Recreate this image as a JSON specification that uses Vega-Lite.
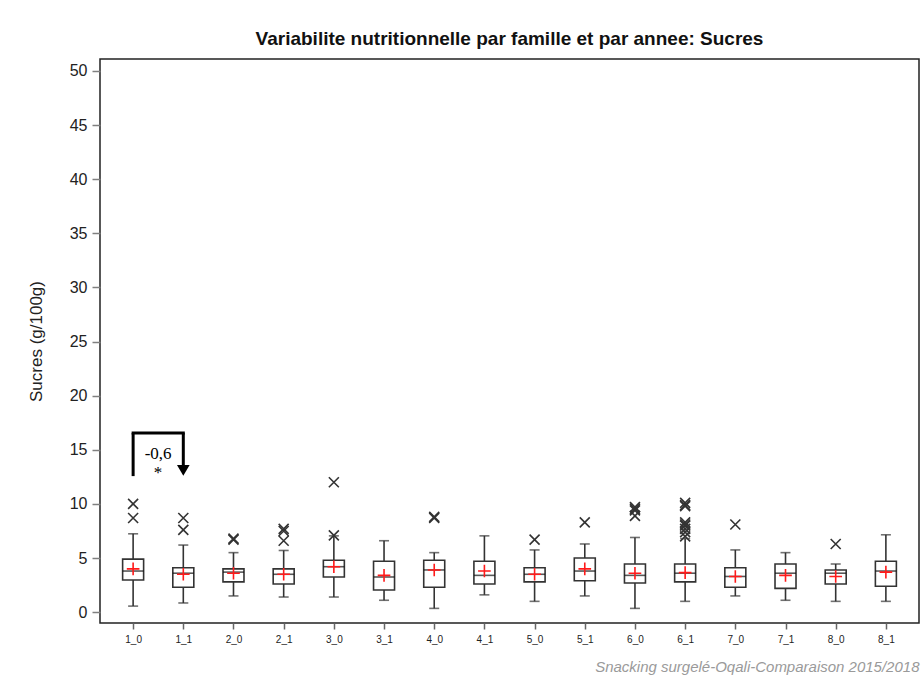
{
  "$schema": "https://vega.github.io/schema/vega-lite/v6.json",
  "width": 819,
  "height": 564,
  "autosize": {"type": "none"},
  "padding": {"left": 100, "top": 59, "right": 2, "bottom": 68},
  "background": "white",
  "title": {
    "text": "Variabilite nutritionnelle par famille et par annee: Sucres",
    "font": "Liberation Sans",
    "fontSize": 19,
    "fontWeight": "bold",
    "color": "#111111",
    "anchor": "middle",
    "baseline": "alphabetic",
    "offset": 14,
    "dy": 19
  },
  "config": {
    "font": "Liberation Sans",
    "view": {"stroke": "#222222", "strokeWidth": 1.5},
    "axisY": {
      "values": [0, 5, 10, 15, 20, 25, 30, 35, 40, 45, 50],
      "grid": false,
      "domain": false,
      "tickColor": "#808080",
      "tickSize": 8,
      "tickWidth": 1.5,
      "labelFont": "Liberation Sans",
      "labelFontSize": 16,
      "labelColor": "#222222",
      "labelPadding": 5,
      "titleFont": "Liberation Sans",
      "titleFontSize": 17,
      "titleFontWeight": "normal",
      "titleColor": "#222222",
      "titlePadding": 24
    },
    "axisX": {
      "grid": false,
      "domain": false,
      "labelAngle": 0,
      "tickColor": "#666666",
      "tickSize": 6,
      "tickWidth": 1.5,
      "labelFont": "Liberation Sans",
      "labelFontSize": 10,
      "labelColor": "#222222",
      "labelPadding": 5,
      "titleFont": "Liberation Sans",
      "titleFontSize": 15,
      "titleFontStyle": "italic",
      "titleFontWeight": "normal",
      "titleColor": "#9a9a9a",
      "titleAnchor": "end",
      "titlePadding": 15
    }
  },
  "datasets": {
    "boxes": [
      {"g": "1_0", "lo": 0.56, "q1": 2.97, "med": 3.8, "q3": 4.9, "hi": 7.24, "mean": 4.0},
      {"g": "1_1", "lo": 0.85, "q1": 2.3, "med": 3.6, "q3": 4.1, "hi": 6.2, "mean": 3.5},
      {"g": "2_0", "lo": 1.5, "q1": 2.8, "med": 3.7, "q3": 4.0, "hi": 5.5, "mean": 3.6},
      {"g": "2_1", "lo": 1.4, "q1": 2.6, "med": 3.5, "q3": 4.0, "hi": 5.7, "mean": 3.5},
      {"g": "3_0", "lo": 1.4, "q1": 3.25, "med": 4.2, "q3": 4.8, "hi": 7.05, "mean": 4.2},
      {"g": "3_1", "lo": 1.1, "q1": 2.05, "med": 3.25, "q3": 4.7, "hi": 6.6, "mean": 3.4},
      {"g": "4_0", "lo": 0.35, "q1": 2.3, "med": 3.9, "q3": 4.8, "hi": 5.5, "mean": 3.9},
      {"g": "4_1", "lo": 1.6, "q1": 2.6, "med": 3.4, "q3": 4.7, "hi": 7.05, "mean": 3.8},
      {"g": "5_0", "lo": 1.0, "q1": 2.8, "med": 3.5, "q3": 4.1, "hi": 5.75, "mean": 3.5},
      {"g": "5_1", "lo": 1.5, "q1": 2.9, "med": 3.8, "q3": 5.0, "hi": 6.3, "mean": 4.0},
      {"g": "6_0", "lo": 0.35, "q1": 2.7, "med": 3.4, "q3": 4.45, "hi": 6.9, "mean": 3.6},
      {"g": "6_1", "lo": 1.0, "q1": 2.8, "med": 3.6, "q3": 4.45, "hi": 6.8, "mean": 3.65},
      {"g": "7_0", "lo": 1.5, "q1": 2.3, "med": 3.3, "q3": 4.1, "hi": 5.75, "mean": 3.3},
      {"g": "7_1", "lo": 1.1, "q1": 2.2, "med": 3.6, "q3": 4.45, "hi": 5.5, "mean": 3.4},
      {"g": "8_0", "lo": 1.0, "q1": 2.6, "med": 3.6, "q3": 3.9, "hi": 4.45, "mean": 3.3},
      {"g": "8_1", "lo": 1.0, "q1": 2.4, "med": 3.8, "q3": 4.7, "hi": 7.15, "mean": 3.7}
    ],
    "outliers": [
      {"g": "1_0", "v": 10.0}, {"g": "1_0", "v": 8.7},
      {"g": "1_1", "v": 8.7}, {"g": "1_1", "v": 7.6},
      {"g": "2_0", "v": 6.8}, {"g": "2_0", "v": 6.7},
      {"g": "2_1", "v": 7.7}, {"g": "2_1", "v": 7.5}, {"g": "2_1", "v": 6.6},
      {"g": "3_0", "v": 12.0}, {"g": "3_0", "v": 7.1},
      {"g": "4_0", "v": 8.8}, {"g": "4_0", "v": 8.7},
      {"g": "5_0", "v": 6.7},
      {"g": "5_1", "v": 8.3},
      {"g": "6_0", "v": 9.7}, {"g": "6_0", "v": 9.55}, {"g": "6_0", "v": 9.4}, {"g": "6_0", "v": 8.9},
      {"g": "6_1", "v": 10.1}, {"g": "6_1", "v": 9.9}, {"g": "6_1", "v": 9.8}, {"g": "6_1", "v": 8.3}, {"g": "6_1", "v": 8.1}, {"g": "6_1", "v": 8.0}, {"g": "6_1", "v": 7.7}, {"g": "6_1", "v": 7.4}, {"g": "6_1", "v": 7.0},
      {"g": "7_0", "v": 8.1},
      {"g": "8_0", "v": 6.3}
    ],
    "brackets": [
      {"g": "1_0", "y": 12.57, "y2": 16.54},
      {"g": "1_1", "y": 13.5, "y2": 16.54}
    ],
    "bracketTop": [
      {"g": "1_0", "g2": "1_1", "y": 16.54}
    ],
    "arrow": [
      {"g": "1_1", "y": 13.1}
    ],
    "labels": [
      {"g": "1_0", "y": 14.6, "t": "-0,6"},
      {"g": "1_0", "y": 12.9, "t": "*"}
    ]
  },
  "encoding": {
    "x": {
      "field": "g",
      "type": "nominal",
      "scale": {
        "type": "point",
        "padding": 0.66,
        "domain": ["1_0", "1_1", "2_0", "2_1", "3_0", "3_1", "4_0", "4_1", "5_0", "5_1", "6_0", "6_1", "7_0", "7_1", "8_0", "8_1"]
      },
      "axis": {"title": "Snacking surgelé-Oqali-Comparaison 2015/2018"}
    }
  },
  "layer": [
    {
      "data": {"name": "boxes"},
      "mark": {"type": "rule", "color": "#333333", "strokeWidth": 1.6},
      "encoding": {
        "y": {"field": "lo", "type": "quantitative", "title": "Sucres (g/100g)", "scale": {"domain": [-1, 51.1], "nice": false, "zero": false}},
        "y2": {"field": "hi"}
      }
    },
    {
      "data": {"name": "boxes"},
      "mark": {"type": "tick", "color": "#333333", "size": 10, "thickness": 1.6, "orient": "horizontal"},
      "encoding": {"y": {"field": "lo", "type": "quantitative", "title": "Sucres (g/100g)"}}
    },
    {
      "data": {"name": "boxes"},
      "mark": {"type": "tick", "color": "#333333", "size": 10, "thickness": 1.6, "orient": "horizontal"},
      "encoding": {"y": {"field": "hi", "type": "quantitative", "title": "Sucres (g/100g)"}}
    },
    {
      "data": {"name": "boxes"},
      "mark": {"type": "bar", "width": 21, "fill": "white", "stroke": "#333333", "strokeWidth": 1.6},
      "encoding": {
        "y": {"field": "q1", "type": "quantitative", "title": "Sucres (g/100g)"},
        "y2": {"field": "q3"}
      }
    },
    {
      "data": {"name": "boxes"},
      "mark": {"type": "tick", "color": "#111111", "size": 21, "thickness": 1.6, "orient": "horizontal"},
      "encoding": {"y": {"field": "med", "type": "quantitative", "title": "Sucres (g/100g)"}}
    },
    {
      "data": {"name": "boxes"},
      "mark": {"type": "point", "shape": "M-1,0L1,0M0,-1L0,1", "size": 160, "stroke": "#ff1a1a", "strokeWidth": 1.6, "filled": false, "opacity": 1},
      "encoding": {"y": {"field": "mean", "type": "quantitative", "title": "Sucres (g/100g)"}}
    },
    {
      "data": {"name": "outliers"},
      "mark": {"type": "point", "shape": "M-1,-1L1,1M-1,1L1,-1", "size": 100, "stroke": "#333333", "strokeWidth": 1.6, "filled": false, "opacity": 1},
      "encoding": {"y": {"field": "v", "type": "quantitative", "title": "Sucres (g/100g)"}}
    },
    {
      "data": {"name": "brackets"},
      "mark": {"type": "rule", "color": "black", "strokeWidth": 3},
      "encoding": {
        "y": {"field": "y", "type": "quantitative", "title": "Sucres (g/100g)"},
        "y2": {"field": "y2"}
      }
    },
    {
      "data": {"name": "bracketTop"},
      "mark": {"type": "rule", "color": "black", "strokeWidth": 3, "strokeCap": "square"},
      "encoding": {
        "x2": {"field": "g2"},
        "y": {"field": "y", "type": "quantitative", "title": "Sucres (g/100g)"}
      }
    },
    {
      "data": {"name": "arrow"},
      "mark": {"type": "point", "shape": "triangle-down", "size": 160, "color": "black", "filled": true, "opacity": 1},
      "encoding": {"y": {"field": "y", "type": "quantitative", "title": "Sucres (g/100g)"}}
    },
    {
      "data": {"name": "labels"},
      "mark": {"type": "text", "font": "Liberation Serif", "fontSize": 17, "fill": "#000000", "dx": 25, "baseline": "middle", "align": "center"},
      "encoding": {
        "y": {"field": "y", "type": "quantitative", "title": "Sucres (g/100g)"},
        "text": {"field": "t"}
      }
    }
  ]
}
